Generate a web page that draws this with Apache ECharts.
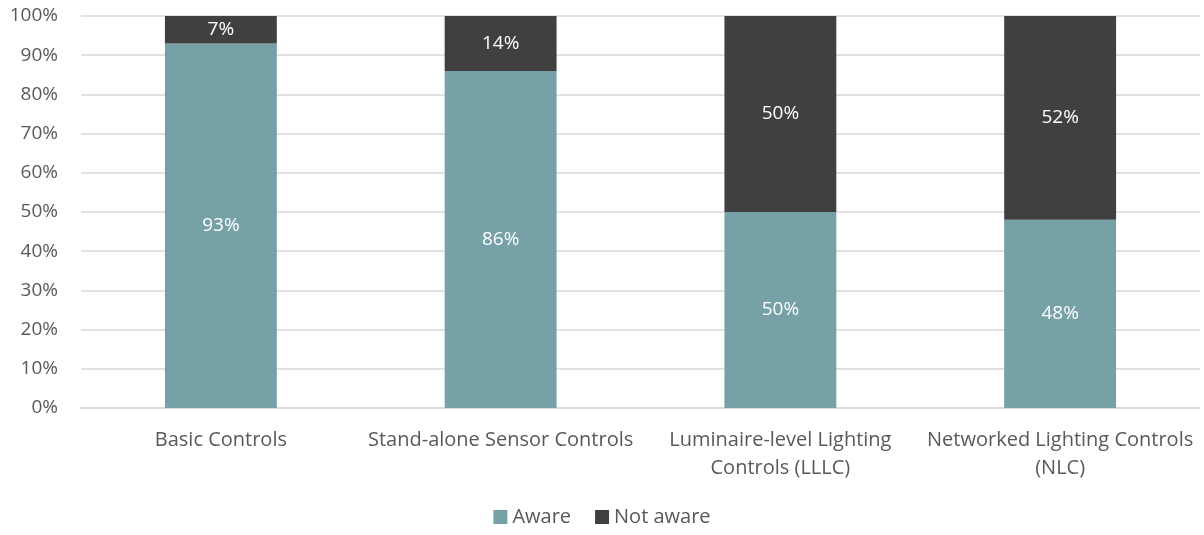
<!DOCTYPE html>
<html><head><meta charset="utf-8">
<script src="https://cdn.jsdelivr.net/npm/echarts@6/dist/echarts.min.js"></script>
<style>html,body{margin:0;padding:0;background:#fff}#c{width:1204px;height:535px}</style>
</head><body><div id="c"></div>
<script>
const categories = ['Basic Controls', 'Stand-alone Sensor Controls', 'Luminaire-level Lighting\nControls (LLLC)', 'Networked Lighting Controls\n(NLC)'];
const aware = [93, 86, 50, 48];
const notAware = [7, 14, 50, 52];
const seriesNames = ['Aware', 'Not aware'];
const FONT = '"Open Sans", sans-serif';
const chart = echarts.init(document.getElementById('c'));
chart.setOption({
  animation: false,
  textStyle: {fontFamily: FONT},
  grid: {left: 81, right: 4, top: 16, bottom: 127, containLabel: false},
  legend: {
    data: seriesNames, bottom: 3, left: 'center', icon: 'rect', itemWidth: 14, itemHeight: 14, itemGap: 24,
    textStyle: {color: '#595959', fontSize: 20, fontFamily: FONT}
  },
  xAxis: {
    type: 'category', data: categories,
    axisLine: {lineStyle: {color: '#d9d9d9', width: 1.5}},
    axisTick: {show: false},
    axisLabel: {color: '#595959', fontSize: 20, fontFamily: FONT, margin: 18, lineHeight: 28, interval: 0}
  },
  yAxis: {
    type: 'value', min: 0, max: 100, interval: 10,
    axisLabel: {formatter: '{value}%', color: '#595959', fontSize: 19, fontFamily: FONT, margin: 23},
    splitLine: {lineStyle: {color: '#d9d9d9', width: 1.5}},
    axisLine: {show: false}, axisTick: {show: false}
  },
  series: [
    {name: 'Aware', type: 'bar', stack: 's', data: aware, barWidth: '40%',
     itemStyle: {color: '#76A2A7'},
     label: {show: true, position: 'inside', formatter: '{c}%', color: '#fff', fontSize: 19, fontFamily: FONT}},
    {name: 'Not aware', type: 'bar', stack: 's', data: notAware, barWidth: '40%',
     itemStyle: {color: '#404040'},
     label: {show: true, position: 'inside', formatter: '{c}%', color: '#fff', fontSize: 19, fontFamily: FONT}}
  ]
});
</script></body></html>
